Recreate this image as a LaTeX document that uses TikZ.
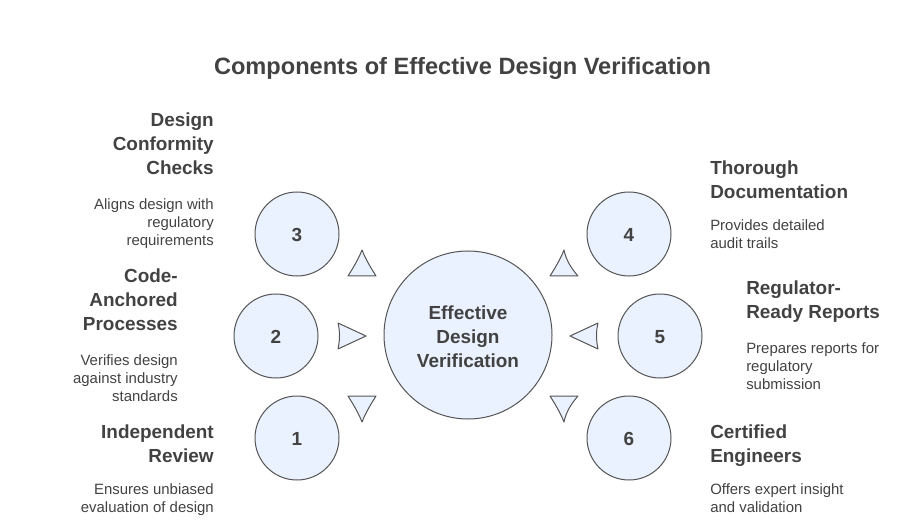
\documentclass[tikz,border=0pt]{standalone}
\usepackage{fontspec}
\setmainfont{Liberation Sans}
\definecolor{inktext}{HTML}{424242}
\definecolor{softfill}{HTML}{EAF1FF}
\definecolor{rimline}{HTML}{555555}
\tikzset{
  ball/.style={circle,draw=rimline,fill=softfill,line width=0.75pt,inner sep=0pt,text=inktext,font=\bfseries\fontsize{14.2}{18}\selectfont,align=center},
  head/.style={inner sep=0pt,text=inktext,font=\bfseries\fontsize{14.2}{18}\selectfont},
  desc/.style={inner sep=0pt,text=inktext,font=\fontsize{11.2}{13.5}\selectfont},
  wedge/.style={draw=rimline,fill=softfill,line width=0.75pt,line join=round}
}
\begin{document}
\begin{tikzpicture}[x=0.75pt,y=-0.75pt]
\useasboundingbox (0,0) rectangle (924,527);

\node[inner sep=0pt,text=inktext,font=\bfseries\fontsize{17.7}{24}\selectfont] (title) at (462.5,68.5) {Components of Effective Design Verification};

\node[ball,minimum size=126pt] (core) at (468,335) {};
\node[head,align=center] (corelabel) at (468,336.5) {Effective\\Design\\Verification};
\foreach \name/\num/\x/\y in {one/1/297/438, two/2/276/336, three/3/297/234, four/4/629/234, five/5/660/336, six/6/629/438}
	\node[ball,minimum size=63pt,text height=11.2pt] (\name) at (\x,\y) {\num};

% wedges round the middle
\draw[wedge] (362,250) .. controls (358,260) and (353,268) .. (348,276) -- (376,276) .. controls (371,268) and (366,260) .. (362,250) -- cycle;
\draw[wedge] (564,250) .. controls (560,260) and (555,268) .. (550,276) -- (578,276) .. controls (571,268) and (566,260) .. (564,250) -- cycle;
\draw[wedge] (338,323) .. controls (340,331) and (340,340) .. (338,349) -- (366,336) -- cycle;
\draw[wedge] (598,323) .. controls (596,331) and (596,340) .. (598,349) -- (570,336) -- cycle;
\draw[wedge] (348,396) -- (376,396) .. controls (371,404) and (366,412) .. (362,422) .. controls (358,412) and (353,404) .. (348,396) -- cycle;
\draw[wedge] (550,396) -- (578,396) .. controls (571,404) and (566,412) .. (564,422) .. controls (560,412) and (555,404) .. (550,396) -- cycle;

\node[head,align=right,anchor=north east] (conformity) at (214,113) {Design\\Conformity\\Checks};
\node[desc,align=right,anchor=north east] (conformitytext) at (214,198) {Aligns design with\\regulatory\\requirements};
\node[head,align=right,anchor=north east] (anchored) at (178,269) {Code-\\Anchored\\Processes};
\node[desc,align=right,anchor=north east] (anchoredtext) at (178,354) {Verifies design\\against industry\\standards};
\node[head,align=right,anchor=north east] (review) at (214,425) {Independent\\Review};
\node[desc,align=right,anchor=north east] (reviewtext) at (214,483) {Ensures unbiased\\evaluation of design};

\node[head,align=left,anchor=north west] (documentation) at (710,161) {Thorough\\Documentation};
\node[desc,align=left,anchor=north west] (documentationtext) at (710,219) {Provides detailed\\audit trails};
\node[head,align=left,anchor=north west] (reports) at (746,281) {Regulator-\\Ready Reports};
\node[desc,align=left,anchor=north west] (reportstext) at (746,342) {Prepares reports for\\regulatory\\submission};
\node[head,align=left,anchor=north west] (engineers) at (710,425) {Certified\\Engineers};
\node[desc,align=left,anchor=north west] (engineerstext) at (710,483) {Offers expert insight\\and validation};
\end{tikzpicture}
\end{document}
